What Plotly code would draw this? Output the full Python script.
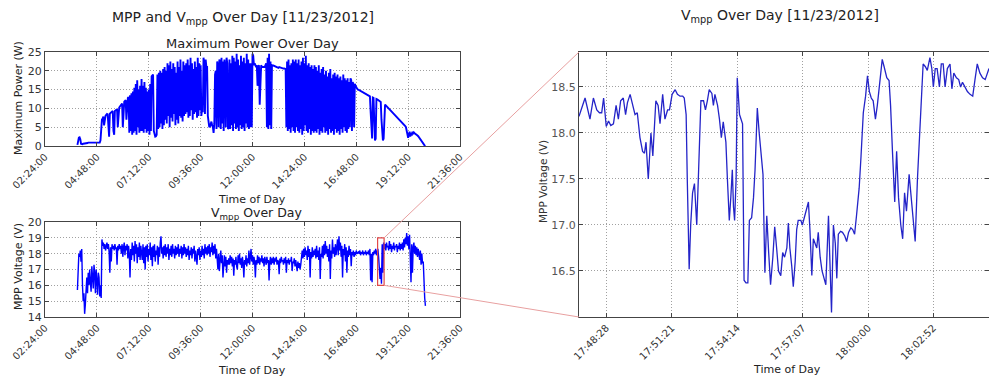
import pandas as pd
import plotly.graph_objects as go

# ---------------- data ----------------
# Left panels: samples every 2 minutes starting 03:54 (rows = one hour)
day_start = "2012-11-23 03:54:00"
sample_step = "2min"

power_w = [
    0.3,1.5,2.2,2.3,1.8,0.6,0.5,0.5,0.6,0.6,0.7,0.7,0.8,0.8,0.8,0.9,0.9,0.9,0.9,1.0,1.0,1.0,1.0,0.9,0.9,0.9,0.8,0.8,0.8,0.8,
    0.8,0.9,1.5,4.5,7.0,7.3,7.8,5.5,7.6,8.0,8.3,8.5,8.4,6.0,2.5,8.6,8.8,9.0,9.2,9.3,4.0,3.0,9.3,9.5,9.6,9.8,5.0,9.9,10.2,10.5,
    10.8,11.0,11.3,5.0,11.5,11.8,12.0,12.2,7.0,12.5,12.8,13.0,3.5,13.5,4.0,14.0,3.0,14.5,3.5,15.5,4.0,16.5,3.0,17.5,5.0,15.0,3.5,16.0,4.0,17.8,
    4.0,16.0,3.5,17.0,4.5,15.5,3.5,14.5,4.0,15.0,3.0,16.5,4.0,18.5,18.8,19.0,4.0,2.8,2.5,2.6,3.0,19.0,4.5,19.5,5.0,20.0,6.0,19.5,4.5,20.5,
    5.5,21.0,7.0,20.0,6.0,22.0,8.0,21.5,5.0,22.5,7.5,20.5,6.5,22.0,8.5,21.0,5.5,19.5,7.0,22.5,6.0,21.0,8.0,23.0,7.5,20.0,6.5,22.5,8.0,21.5,
    8.5,22.0,9.0,23.0,7.5,21.5,8.0,23.5,9.5,22.0,7.0,20.5,8.5,22.5,9.0,21.0,7.5,23.5,8.0,22.0,9.5,21.5,8.0,10.0,9.0,23.5,22.0,8.5,23.0,21.0,
    21.0,8.0,5.5,5.0,5.2,6.0,6.5,5.5,5.0,3.5,6.0,19.0,20.0,4.5,22.5,21.0,5.0,23.0,22.0,4.5,23.5,6.0,22.5,4.0,23.0,20.5,5.0,23.5,22.0,4.5,
    5.0,23.0,4.5,22.0,5.5,24.0,4.0,23.5,6.0,22.5,4.5,24.5,5.0,23.0,4.0,21.5,5.5,24.0,4.5,22.5,5.0,23.5,4.0,22.0,6.0,24.5,5.0,23.0,4.5,22.0,
    5.0,22.0,5.0,24.5,24.0,21.5,22.0,21.5,21.0,21.5,16.0,21.0,21.5,11.0,21.0,21.5,21.0,21.0,21.0,21.2,21.0,21.5,22.0,5.0,23.5,4.5,24.5,5.5,22.5,4.5,
    21.5,21.4,21.4,21.3,21.3,21.2,21.2,21.1,21.0,20.8,21.0,20.9,20.8,20.8,20.7,20.7,20.6,20.6,20.5,20.5,5.0,22.5,4.0,23.0,4.5,21.5,3.5,22.0,5.0,23.0,
    4.0,22.5,3.5,23.0,5.0,22.0,4.0,23.0,3.5,21.5,4.5,22.5,3.0,23.5,4.0,22.0,5.5,24.0,4.0,21.5,3.5,22.0,4.5,21.0,3.0,21.5,4.0,20.5,3.5,21.5,
    4.0,21.0,3.5,20.0,4.5,21.5,3.0,19.5,4.0,20.5,3.5,21.0,5.0,19.0,3.5,20.0,4.0,18.5,3.0,19.5,4.5,20.5,3.5,18.0,4.0,19.0,3.0,19.5,4.5,18.5,
    3.5,19.0,4.0,18.0,3.0,18.5,4.5,17.5,3.5,19.0,5.0,18.0,4.0,17.5,3.5,18.0,4.5,17.0,5.0,18.0,17.5,4.0,17.0,16.5,5.0,16.5,16.0,15.5,15.3,15.0,
    15.0,14.9,14.8,14.7,14.5,14.4,14.3,14.2,14.1,14.0,13.8,13.7,13.6,13.5,13.4,13.3,13.2,9.0,2.5,2.0,12.9,12.8,7.0,1.5,2.0,12.5,12.4,12.3,12.2,12.0,
    11.8,11.7,7.0,1.5,1.5,2.0,10.5,11.0,10.8,10.6,10.4,10.2,10.0,9.8,9.6,9.4,9.2,9.0,8.8,8.6,8.4,8.2,8.0,7.8,7.6,7.4,7.2,7.0,6.8,6.6,
    6.5,6.3,6.0,5.8,5.6,5.3,5.0,4.0,3.0,2.2,3.0,3.8,2.5,3.5,2.8,3.8,3.2,3.6,3.4,3.3,3.2,3.0,2.8,2.6,2.3,2.0,1.7,1.4,1.1,0.8,
    0.5,0.3,0.1,0.0,
]

vmpp_day = [
    15.7,17.5,18.0,17.8,18.2,17.5,18.3,16.0,15.0,15.5,14.2,14.8,15.8,16.5,15.5,16.8,16.0,17.0,16.2,15.6,17.2,16.5,15.8,17.3,16.8,15.5,17.0,16.3,15.4,16.8,
    16.5,15.3,16.0,15.2,18.9,18.5,18.7,18.3,18.6,18.2,18.5,18.7,18.3,18.6,18.1,16.8,18.4,17.5,18.6,18.3,18.5,18.2,18.6,18.3,18.4,17.3,18.5,18.2,18.6,18.3,
    18.5,18.0,18.6,17.8,18.4,18.7,17.9,18.5,18.2,18.6,17.7,18.5,18.0,16.5,18.3,17.6,18.7,17.9,18.5,17.5,18.8,18.0,18.6,17.4,18.4,17.8,18.7,17.6,18.5,18.0,
    17.6,18.6,17.4,18.4,17.0,18.5,17.8,18.6,17.5,18.3,17.9,18.7,17.6,18.4,17.2,18.5,17.8,18.6,17.5,18.2,17.9,18.5,17.3,18.4,17.8,18.7,19.1,18.0,18.4,17.7,
    18.5,17.9,18.6,17.8,18.4,18.0,18.6,17.6,18.3,17.9,18.5,17.8,18.6,18.0,18.3,17.7,18.5,17.9,18.4,18.0,18.6,17.8,18.3,18.0,18.5,17.7,18.4,17.9,18.6,18.0,
    18.4,17.8,18.3,17.9,18.5,17.6,18.2,17.9,18.4,17.7,18.3,18.0,18.5,17.5,18.2,17.8,17.3,18.3,17.9,18.4,17.6,18.2,17.8,18.5,17.9,18.3,17.7,18.6,18.0,18.4,
    17.9,18.5,18.0,18.6,17.8,18.4,18.1,18.7,17.9,18.5,18.0,18.6,17.7,18.3,17.5,17.0,18.0,16.9,17.6,18.2,17.4,17.9,16.5,17.5,17.9,17.2,17.8,16.8,17.6,17.3,
    17.7,17.3,17.9,17.4,17.8,17.2,17.7,16.6,17.6,17.3,17.8,17.2,17.0,17.9,17.4,18.0,17.3,17.7,17.1,17.8,17.4,16.5,17.6,17.3,17.9,17.2,17.7,17.4,18.2,17.3,
    17.8,18.3,17.5,17.9,17.3,17.8,17.5,16.5,17.6,17.3,17.9,17.4,17.8,17.3,17.7,17.5,17.9,17.4,17.7,17.2,17.8,17.5,17.3,17.8,17.4,17.6,16.3,17.5,17.8,17.3,
    17.7,17.4,17.8,17.3,17.7,17.5,17.8,17.3,17.6,17.5,16.7,17.7,17.4,17.8,17.5,17.6,17.3,17.7,17.4,17.8,16.8,17.6,17.4,17.7,17.3,17.6,17.5,17.8,16.9,17.5,
    17.4,17.7,17.2,17.6,17.3,16.9,17.5,17.1,17.4,17.0,17.3,17.8,18.2,17.7,18.3,17.8,18.4,17.9,18.2,17.6,18.5,17.8,18.3,16.5,18.1,17.7,18.4,17.8,18.2,17.9,
    18.3,17.7,18.5,17.8,18.2,17.6,18.4,16.4,18.0,17.8,18.5,17.7,18.6,17.9,18.8,18.0,18.5,17.8,18.3,17.5,18.6,16.4,18.2,17.7,18.9,18.0,18.4,17.8,18.6,17.9,
    18.4,18.9,17.9,19.1,18.2,18.7,17.8,18.5,16.5,18.3,17.9,18.6,17.5,18.4,16.8,18.2,17.8,18.5,17.9,18.3,17.2,18.1,17.9,18.2,17.8,18.1,17.9,18.2,18.0,18.1,
    18.1,18.0,18.2,17.9,18.1,18.0,18.2,17.9,18.1,18.0,18.2,17.9,18.1,18.0,18.2,17.9,18.3,16.3,18.0,16.2,18.1,17.9,18.2,18.0,18.3,17.9,18.2,18.3,17.8,16.5,
    16.4,17.1,16.1,18.6,16.8,18.7,18.3,18.6,18.2,18.7,18.4,18.5,18.2,18.8,18.3,18.6,18.1,18.5,18.3,18.7,18.2,18.5,18.4,18.6,18.1,18.5,18.3,18.7,18.2,18.6,
    18.3,18.7,18.2,18.9,18.4,19.0,18.6,19.3,18.5,19.1,18.3,19.2,18.0,16.2,18.6,16.8,18.4,18.7,18.0,18.5,17.9,18.4,17.8,18.3,18.0,17.6,18.2,17.3,18.0,17.4,
    17.5,16.0,15.2,14.7,
]

# Right panel: zoomed window, seconds after 17:47:00 and voltage
zoom_ref = "2012-11-23 17:47:00"
zoom_offset_s = [
    16,32,45,54,63,70,76,81,88,94,
    100,107,114,120,126,133,139,144,151,158,
    164,170,177,184,189,193,199,206,211,219,
    225,230,237,243,250,255,262,270,276,283,
    290,294,299,302,307,311,316,321,327,332,
    338,345,350,355,360,367,371,375,382,387,
    392,397,404,408,413,417,421,424,427,431,
    434,440,445,448,452,457,462,466,472,477,
    481,487,492,497,502,507,512,517,522,528,
    533,538,543,549,554,559,565,569,573,578,
    582,587,591,595,602,606,610,616,622,626,
    631,635,640,644,648,653,658,663,668,675,
    679,683,688,693,697,701,707,712,718,723,
    728,734,739,744,749,756,761,767,773,778,
    783,788,793,799,804,811,817,822,829,835,
    839,844,850,855,860,866,871,876,881,888,
    893,899,904,910,915,920,925,931,936,943,
    948,952,957,962,968,973,978,983,989,996,
    1001,1006,1013,1019,1024,1029,1035,1042,1049,1056,
    1062,1068,1075,1082,1089,1094,1099,
]
zoom_vmpp = [
    18.18,18.38,18.15,18.38,18.25,18.22,18.22,18.38,18.07,18.13,
    18.08,18.10,18.30,18.15,18.35,18.38,18.20,18.33,18.42,18.30,
    18.20,18.22,17.95,17.80,17.78,17.90,17.50,18.00,17.75,18.35,
    18.30,18.10,18.42,18.15,18.25,18.25,18.42,18.47,18.42,18.40,
    18.40,18.38,18.20,17.50,16.52,17.00,17.35,17.45,17.00,17.60,
    18.35,18.35,18.25,18.35,18.47,18.43,18.30,18.42,18.30,18.15,
    17.95,18.12,17.90,17.50,17.05,17.30,17.60,17.20,17.05,17.50,
    18.60,18.20,18.15,18.10,16.40,16.37,16.37,17.05,17.08,17.30,
    17.60,18.27,18.00,17.80,17.55,16.48,17.10,16.70,16.35,16.65,
    16.98,16.75,16.50,16.45,16.70,16.65,16.75,17.02,16.75,16.55,
    16.33,16.60,16.95,17.05,17.05,17.00,17.07,17.15,17.25,16.95,
    16.45,16.85,16.80,16.75,16.92,16.65,16.50,16.42,16.35,17.10,
    16.50,16.05,17.00,16.80,16.42,16.90,16.93,16.92,16.88,16.82,
    16.92,16.97,16.95,16.90,17.10,17.40,17.75,18.22,18.40,18.62,
    18.45,18.38,18.35,18.15,18.30,18.55,18.80,18.72,18.60,18.57,
    18.30,17.80,17.25,17.80,17.30,17.00,16.85,17.35,17.15,17.55,
    17.30,17.00,16.82,17.50,17.90,18.30,18.75,18.72,18.68,18.82,
    18.70,18.50,18.70,18.70,18.50,18.75,18.75,18.50,18.70,18.75,
    18.48,18.65,18.60,18.58,18.50,18.55,18.50,18.45,18.42,18.40,
    18.58,18.75,18.65,18.60,18.58,18.65,18.70,
]
zoom_tick_text = ["17:48:28", "17:51:21", "17:54:14", "17:57:07", "18:00:00", "18:02:52"]
zoom_box_v = [16.0, 19.0]

# ---------------- figure ----------------
day_times = pd.date_range(day_start, periods=len(power_w), freq=sample_step)
zoom_times = pd.Timestamp(zoom_ref) + pd.to_timedelta(zoom_offset_s, unit="s")
zoom_tickvals = [pd.Timestamp("2012-11-23 " + t) for t in zoom_tick_text]

W, H = 989, 379
def px(x):
    return x / W
def py(y):
    return 1 - y / H

left_dom = [px(45), px(460)]
top_dom = [py(146), py(52)]
bot_dom = [py(317), py(222)]
right_dom = [px(579), 1.0]
right_ydom = [py(317), py(52)]

day_range = [pd.Timestamp("2012-11-23 02:24:00"), pd.Timestamp("2012-11-23 21:36:00")]
zoom_range = [pd.Timestamp("2012-11-23 17:47:16"), pd.Timestamp("2012-11-23 18:05:19")]

FONT = "DejaVu Sans"
fig = go.Figure()
fig.add_trace(go.Scatter(x=day_times, y=power_w, mode="lines",
                         line=dict(color="#0000ff", width=1.9), xaxis="x", yaxis="y",
                         showlegend=False))
fig.add_trace(go.Scatter(x=day_times, y=vmpp_day, mode="lines",
                         line=dict(color="#0000ff", width=1.4), xaxis="x2", yaxis="y2",
                         showlegend=False))
fig.add_trace(go.Scatter(x=zoom_times, y=zoom_vmpp, mode="lines",
                         line=dict(color="#2424c8", width=1.3), xaxis="x3", yaxis="y3",
                         showlegend=False))

axis_common = dict(showline=True, linecolor="#444", linewidth=1.3, mirror="ticks",
                   ticks="inside", ticklen=4, tickcolor="#444", automargin=False,
                   showgrid=True, gridcolor="#a0a0a0", griddash="1px,2px", gridwidth=1,
                   zeroline=False, tickfont=dict(family=FONT, size=10, color="#333"))

day_x = dict(axis_common, type="date", range=day_range, tick0="2012-11-23 02:24:00",
             dtick=8640000, tickformat="%H:%M:%S", tickangle=-45)

fig.update_layout(
    width=W, height=H, margin=dict(l=0, r=0, t=0, b=0, autoexpand=False),
    paper_bgcolor="white", plot_bgcolor="white",
    font=dict(family=FONT, color="#222"),
    xaxis=dict(day_x, domain=left_dom, anchor="y"),
    yaxis=dict(axis_common, domain=top_dom, anchor="x", range=[0, 25], dtick=5,
               tickfont=dict(family=FONT, size=11, color="#333")),
    xaxis2=dict(day_x, domain=left_dom, anchor="y2"),
    yaxis2=dict(axis_common, domain=bot_dom, anchor="x2", range=[14, 20], dtick=1,
                tickfont=dict(family=FONT, size=11, color="#333")),
    xaxis3=dict(axis_common, type="date", domain=right_dom, anchor="y3", range=zoom_range,
                tickvals=zoom_tickvals, ticktext=zoom_tick_text, tickangle=-45),
    yaxis3=dict(axis_common, domain=right_ydom, anchor="x3", range=[16.0, 18.88],
                tickvals=[16.5, 17.0, 17.5, 18.0, 18.5], tickformat=".1f",
                tickfont=dict(family=FONT, size=11, color="#555")),
)

# zoom box on the lower-left panel and connector lines to the right panel
fig.add_shape(type="rect", xref="x2", yref="y2", x0=zoom_range[0], x1=zoom_range[1],
              y0=zoom_box_v[0], y1=zoom_box_v[1], line=dict(color="#e04848", width=1.2))

def day_to_paper(t):
    frac = (t - day_range[0]) / (day_range[1] - day_range[0])
    return left_dom[0] + frac * (left_dom[1] - left_dom[0])
def v_to_paper(v):
    return bot_dom[0] + (v - 14) / 6 * (bot_dom[1] - bot_dom[0])

bx = day_to_paper(zoom_range[1])
fig.add_shape(type="line", xref="paper", yref="paper", x0=bx, y0=v_to_paper(zoom_box_v[1]),
              x1=right_dom[0], y1=right_ydom[1], line=dict(color="#e8a0a0", width=1))
fig.add_shape(type="line", xref="paper", yref="paper", x0=bx, y0=v_to_paper(zoom_box_v[0]),
              x1=right_dom[0], y1=right_ydom[0], line=dict(color="#e8a0a0", width=1))

def ann(text, x, y, size, angle=0, color="#222"):
    fig.add_annotation(text=text, x=px(x), y=py(y), xref="paper", yref="paper",
                       showarrow=False, xanchor="center", yanchor="middle",
                       textangle=angle, font=dict(family=FONT, size=size, color=color))

ann("MPP and V<sub>mpp</sub> Over Day [11/23/2012]", 243, 18, 14)
ann("Maximum Power Over Day", 252, 43, 13)
ann("Time of Day", 252, 199, 11)
ann("V<sub>mpp</sub> Over Day", 257, 213, 12.5)
ann("Time of Day", 252, 370, 11)
ann("Maximum Power (W)", 18, 98, 11, -90)
ann("MPP Voltage (V)", 18, 267, 11, -90)
ann("V<sub>mpp</sub> Over Day [11/23/2012]", 780, 16, 14)
ann("MPP Voltage (V)", 543, 182, 10.5, -90, "#333")
ann("Time of Day", 787, 369, 11)

fig.write_html("out.html", config={"displayModeBar": False},
               post_script="document.body.style.margin='0';document.body.style.overflow='hidden';")
